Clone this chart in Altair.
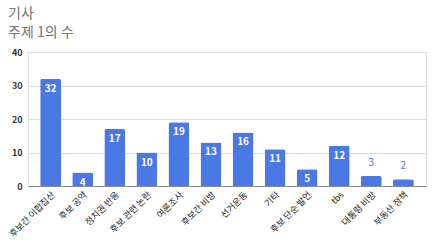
import altair as alt
import pandas as pd

categories = ["후보간 이합집산", "후보 공약", "정치권 반응", "후보 관련 논란", "여론조사", "후보간 비방",
              "선거운동", "기타", "후보 단순 발언", "tbs", "대통령 비방", "부동산 정책"]
counts = [32, 4, 17, 10, 19, 13, 16, 11, 5, 12, 3, 2]
y_ticks = [0, 10, 20, 30, 40]

df = pd.DataFrame({"cat": categories, "n": counts})
BLUE = "#4a78e6"
FONT = "Noto Sans CJK KR"

x = alt.X("cat:N", sort=categories, title=None,
          scale=alt.Scale(paddingInner=0.35, paddingOuter=0.38),
          axis=alt.Axis(labelAngle=-45, labelAlign="right", labelBaseline="top",
                        labelFontSize=9, labelColor="#222", labelFont=FONT,
                        ticks=False, domainColor="#888", labelPadding=4))
y = alt.Y("n:Q", title=None,
          scale=alt.Scale(domain=[0, 40], nice=False),
          axis=alt.Axis(values=y_ticks, domain=False, ticks=False, labelOverlap=False,
                        gridColor="#dddddd", labelFontSize=9, labelColor="#333",
                        labelFontWeight="bold", labelPadding=6, labelFont=FONT))

base = alt.Chart(df)
bars = base.mark_bar(color=BLUE, cornerRadiusTopLeft=2, cornerRadiusTopRight=2).encode(x=x, y=y)
inside = base.transform_filter("datum.n >= 4").mark_text(
    color="white", fontSize=10, fontWeight="bold", baseline="top", dy=5, font=FONT
).encode(x=x, y=y, text="n:Q")
above = base.transform_filter("datum.n < 4").mark_text(
    color=BLUE, fontSize=10, baseline="bottom", dy=-8, font=FONT
).encode(x=x, y=y, text="n:Q")

chart = (bars + inside + above).properties(
    width=398, height=134,
    padding={"left": 28, "top": 52, "right": 14, "bottom": 58},
    autosize=alt.AutoSizeParams(type="none"),
    title=alt.TitleParams(text="기사", subtitle="주제 1의 수", anchor="start", frame="group",
                          dx=-20, fontSize=14, subtitleFontSize=14, fontWeight="normal",
                          color="#757575", subtitleColor="#757575", font=FONT, subtitleFont=FONT,
                          subtitlePadding=5, offset=8),
).configure_view(stroke=None).configure(background="white")

chart.save("out.html", embed_options={"renderer": "svg", "actions": False})
